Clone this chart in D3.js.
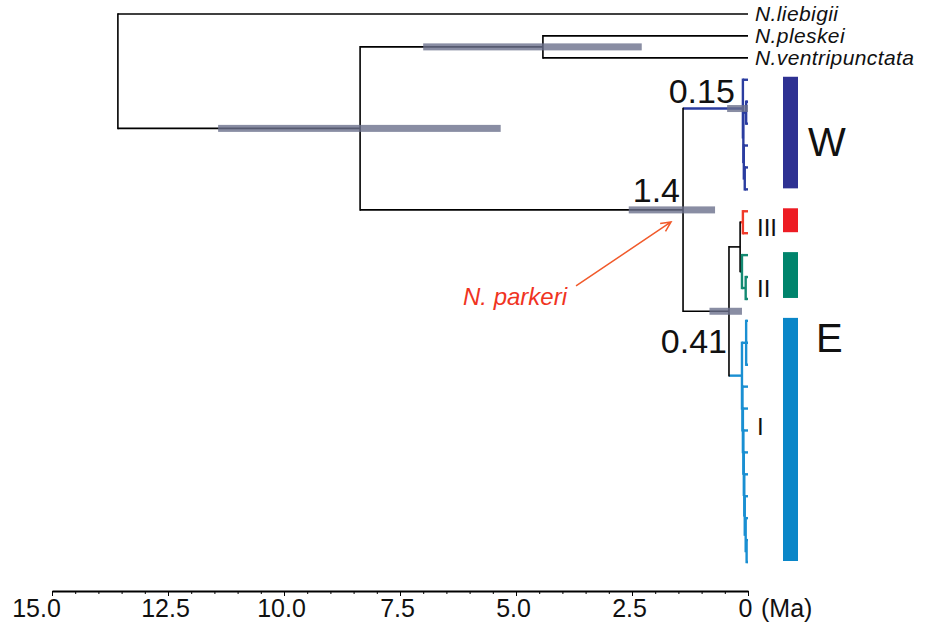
<!DOCTYPE html>
<html>
<head>
<meta charset="utf-8">
<script src="https://cdn.jsdelivr.net/npm/d3@7"></script>
<style>
  body { margin: 0; background: #fff; }
  svg { display: block; font-family: "Liberation Sans", Arial, sans-serif; }
</style>
</head>
<body>
<div id="chart"></div>
<script>
// tree as [id, parent, age (Ma)]; children keep the listed order
const nodes = [
  ["root", null, 13.58],
  ["N.liebigii", "root", 0],
  ["n8", "root", 8.36],
  ["n44", "n8", 4.42],
  ["N.pleskei", "n44", 0],
  ["N.ventripunctata", "n44", 0],
  ["n14", "n8", 1.4],
  ["W", "n14", 0.11],
  ["W1", "W", 0],
  ["Wx", "W", 0.1],
  ["Wa", "Wx", 0.04],
  ["W2", "Wa", 0], ["W3", "Wa", 0],
  ["Wb", "Wx", 0.09],
  ["W4", "Wb", 0],
  ["Wc", "Wb", 0.07],
  ["W5", "Wc", 0], ["W6", "Wc", 0],
  ["E", "n14", 0.41],
  ["S", "E", 0.17],
  ["III", "S", 0.11],
  ["III1", "III", 0], ["III2", "III", 0],
  ["II", "S", 0.13],
  ["II1", "II", 0],
  ["IIa", "II", 0.05],
  ["II2", "IIa", 0], ["II3", "IIa", 0],
  ["I", "E", 0.13],
  ["Ia", "I", 0.04],
  ["I1", "Ia", 0], ["I2", "Ia", 0], ["I3", "Ia", 0],
  ["Ib", "I", 0.12], ["I4", "Ib", 0],
  ["Ic", "Ib", 0.11], ["I5", "Ic", 0],
  ["Id", "Ic", 0.1], ["I6", "Id", 0],
  ["Ie", "Id", 0.09], ["I7", "Ie", 0],
  ["If", "Ie", 0.08], ["I8", "If", 0],
  ["Ig", "If", 0.07], ["I9", "Ig", 0],
  ["Ih", "Ig", 0.05], ["I10", "Ih", 0],
  ["Ii", "Ih", 0.03], ["I11", "Ii", 0], ["I12", "Ii", 0],
];

// 95% HPD of node ages [young, old]
const hpdNodes = ["n8", "n44", "n14", "W", "E"];
const hpdLow   = [5.33, 2.29, 0.71, 0.0, 0.13];
const hpdHigh  = [11.42, 7.0, 2.57, 0.45, 0.83];

const nodeLabelIds   = ["W", "n14", "E"];
const nodeLabelTexts = ["0.15", "1.4", "0.41"];

const outgroups = ["N.liebigii", "N.pleskei", "N.ventripunctata"];

const clades      = ["W", "III", "II", "I"];
const cladeColors = ["#2e3192", "#ed1c24", "#00846c", "#0a86c8"];
const branchColors = ["#2b3da0", "#f03a2a", "#138a72", "#1a8fd2"];
const romanLabels = ["", "III", "II", "I"];

const groupLabels = ["W", "E"];

const tickValues = [15, 12.5, 10, 7.5, 5, 2.5, 0];
const tickLabels = ["15.0", "12.5", "10.0", "7.5", "5.0", "2.5", "0"];

const width = 934, height = 628;

const svg = d3.select("#chart").append("svg")
  .attr("width", width)
  .attr("height", height);

const root = d3.stratify()
  .id(d => d[0])
  .parentId(d => d[1])(nodes);
root.each(n => n.age = n.data[2]);

const x = d3.scaleLinear().domain([15, 0]).range([52, 748]);
const y = d3.scalePoint().domain(root.leaves().map(d => d.id)).range([14, 562]);

root.eachAfter(n => {
  n.py = n.children
    ? (n.children[0].py + n.children[n.children.length - 1].py) / 2
    : y(n.id);
});
root.eachBefore(n => {
  const i = clades.indexOf(n.id);
  n.color = i >= 0 ? branchColors[i] : (n.parent ? n.parent.color : "#000");
  n.inClade = i >= 0 || (n.parent ? n.parent.inClade : false);
});

const byId = new Map(root.descendants().map(n => [n.id, n]));

// branches
const g = svg.append("g").attr("fill", "none");
g.selectAll(".hbranch")
  .data(root.descendants().filter(n => n.parent))
  .enter().append("path")
  .attr("class", "hbranch")
  .attr("d", n => "M" + x(n.parent.age) + "," + n.py + "H" + x(n.age))
  .attr("stroke", n => n.color)
  .attr("stroke-width", n => n.inClade ? 2.4 : 1.6);
g.selectAll(".vbranch")
  .data(root.descendants().filter(n => n.children))
  .enter().append("path")
  .attr("class", "vbranch")
  .attr("d", n => "M" + x(n.age) + "," + n.children[0].py + "V" + n.children[n.children.length - 1].py)
  .attr("stroke", n => n.color)
  .attr("stroke-linecap", "square")
  .attr("stroke-width", n => n.inClade ? 2.4 : 1.6);

// HPD bars
svg.selectAll(".hpd")
  .data(hpdNodes)
  .enter().append("rect")
  .attr("class", "hpd")
  .attr("x", (d, i) => x(hpdHigh[i]))
  .attr("width", (d, i) => x(hpdLow[i]) - x(hpdHigh[i]))
  .attr("y", d => byId.get(d).py - 3.5)
  .attr("height", 7)
  .attr("fill", "#6c718c")
  .attr("opacity", 0.8);

// node age labels
const labelOffset = { W: [-8, -6], n14: [-3, -8], E: [-2, 42] };
svg.selectAll(".nodelab")
  .data(nodeLabelIds)
  .enter().append("text")
  .attr("class", "nodelab")
  .attr("x", d => x(byId.get(d).age) + labelOffset[d][0])
  .attr("y", d => byId.get(d).py + labelOffset[d][1])
  .attr("text-anchor", "end")
  .attr("font-size", 34)
  .attr("fill", "#111")
  .text((d, i) => nodeLabelTexts[i]);

// outgroup tip names
svg.selectAll(".tip")
  .data(outgroups)
  .enter().append("text")
  .attr("class", "tip")
  .attr("x", x(0) + 7)
  .attr("y", d => byId.get(d).py + 7)
  .attr("font-size", 21)
  .attr("letter-spacing", 0.4)
  .attr("font-style", "italic")
  .attr("fill", "#111")
  .text(d => d);

// clade colour bars
const cladeSpan = c => {
  const lv = byId.get(c).leaves();
  return [lv[0].py, lv[lv.length - 1].py];
};
svg.selectAll(".cbar")
  .data(clades)
  .enter().append("rect")
  .attr("class", "cbar")
  .attr("x", 783)
  .attr("width", 15)
  .attr("y", d => cladeSpan(d)[0] - 3)
  .attr("height", d => cladeSpan(d)[1] - cladeSpan(d)[0] + 2)
  .attr("fill", (d, i) => cladeColors[i]);

// roman numerals
const romanAnchor = { III: ["III2", 3], II: ["II3", -2], I: ["I6", 5] };
svg.selectAll(".roman")
  .data(clades.filter((d, i) => romanLabels[i]))
  .enter().append("text")
  .attr("class", "roman")
  .attr("x", 757)
  .attr("y", d => byId.get(romanAnchor[d][0]).py + romanAnchor[d][1])
  .attr("font-size", 24)
  .attr("fill", "#111")
  .text(d => romanLabels[clades.indexOf(d)]);

// W / E
const groupAnchor = { W: [808, "W4", 10], E: [816, "I2", 9] };
svg.selectAll(".group")
  .data(groupLabels)
  .enter().append("text")
  .attr("class", "group")
  .attr("x", d => groupAnchor[d][0])
  .attr("y", d => byId.get(groupAnchor[d][1]).py + groupAnchor[d][2])
  .attr("font-size", 40)
  .attr("fill", "#111")
  .text(d => d);

// N. parkeri arrow
const n14 = byId.get("n14");
const tx = x(n14.age) - 12, ty = n14.py + 12;
const sx = tx - 95, sy = ty + 64;
const ang = Math.atan2(ty - sy, tx - sx);
const head = 11, spread = 0.45;
svg.append("path")
  .attr("d", "M" + sx + "," + sy + "L" + tx + "," + ty +
    "M" + (tx - head * Math.cos(ang - spread)) + "," + (ty - head * Math.sin(ang - spread)) +
    "L" + tx + "," + ty +
    "L" + (tx - head * Math.cos(ang + spread)) + "," + (ty - head * Math.sin(ang + spread)))
  .attr("fill", "none")
  .attr("stroke", "#f15a2b")
  .attr("stroke-width", 1.5);
svg.append("text")
  .attr("x", sx - 9)
  .attr("y", sy + 19)
  .attr("text-anchor", "end")
  .attr("font-size", 24)
  .attr("font-style", "italic")
  .attr("fill", "#f0341f")
  .text("N. parkeri");

// time axis
const axisY = 591;
svg.append("g")
  .attr("transform", "translate(0," + axisY + ")")
  .call(d3.axisBottom(x).tickValues(d3.range(0, 15.01, 0.5)).tickSize(3).tickFormat(""))
  .call(a => a.select(".domain").remove());
const ax = svg.append("g")
  .attr("transform", "translate(0," + axisY + ")")
  .call(d3.axisBottom(x).tickValues(tickValues)
    .tickFormat((d, i) => tickLabels[i])
    .tickSize(5).tickSizeOuter(0).tickPadding(3));
ax.select(".domain").attr("stroke-width", 1.8);
ax.selectAll("text")
  .attr("font-size", 25)
  .attr("dx", (d, i) => i === 0 ? -16 : -3)
  .attr("font-family", "Liberation Sans, Arial, sans-serif")
  .attr("fill", "#111");
svg.append("text")
  .attr("x", x(0) + 13)
  .attr("y", axisY + 26)
  .attr("font-size", 25)
  .attr("fill", "#111")
  .text("(Ma)");
</script>
</body>
</html>
